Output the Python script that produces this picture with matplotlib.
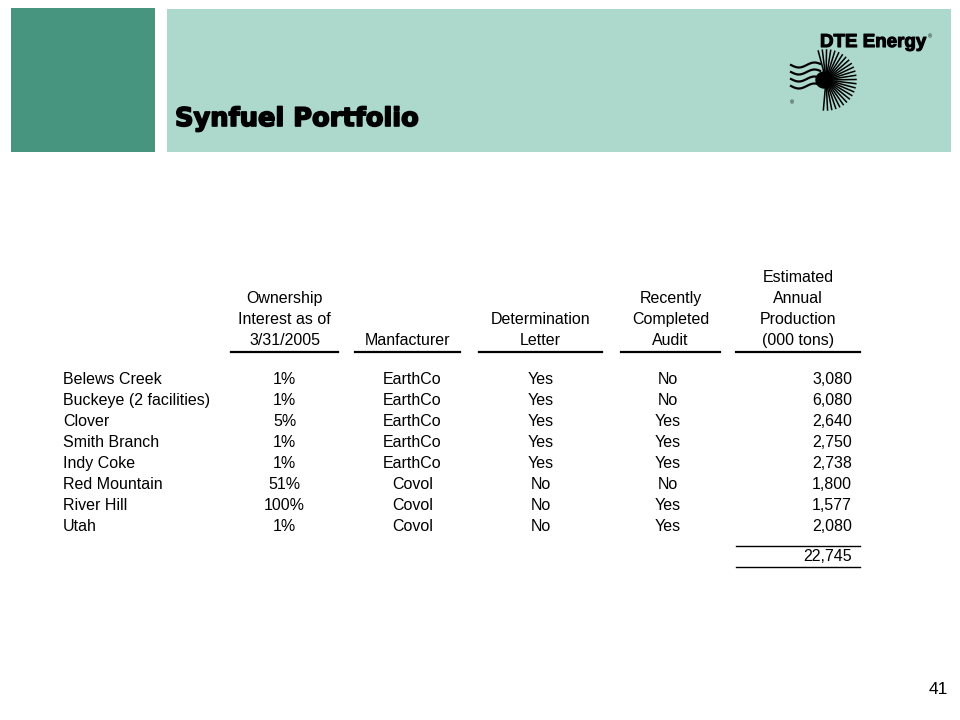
import numpy as np
import matplotlib.pyplot as plt
import matplotlib.patheffects as pe
from matplotlib.patches import Rectangle

plt.rcParams['font.family'] = ['Liberation Sans', 'DejaVu Sans']

# table data
facilities = ['Belews Creek', 'Buckeye (2 facilities)', 'Clover', 'Smith Branch',
              'Indy Coke', 'Red Mountain', 'River Hill', 'Utah']
ownership = ['1%', '1%', '5%', '1%', '1%', '51%', '100%', '1%']
manufacturer = ['EarthCo', 'EarthCo', 'EarthCo', 'EarthCo', 'EarthCo',
                'Covol', 'Covol', 'Covol']
determination = ['Yes', 'Yes', 'Yes', 'Yes', 'Yes', 'No', 'No', 'No']
audit = ['No', 'No', 'Yes', 'Yes', 'Yes', 'No', 'Yes', 'Yes']
production = [3080, 6080, 2640, 2750, 2738, 1800, 1577, 2080]
total_production = 22745

headers = [['Ownership', 'Interest as of', '3/31/2005'],
           ['Manfacturer'],
           ['Determination', 'Letter'],
           ['Recently', 'Completed', 'Audit'],
           ['Estimated', 'Annual', 'Production', '(000 tons)']]

fig = plt.figure(figsize=(9.6, 7.2), dpi=100)
ax = fig.add_axes([0, 0, 1, 1])
ax.set_xlim(0, 960)
ax.set_ylim(720, 0)
ax.axis('off')

# banner
ax.add_patch(Rectangle((11, 8), 144, 144, color='#47957f', lw=0))
ax.add_patch(Rectangle((167, 9), 784, 143, color='#acd9cc', lw=0))
ax.text(175, 126, 'Synfuel Portfolio', fontsize=18.5, fontweight='bold',
        family='DejaVu Sans', color='black', va='baseline',
        path_effects=[pe.withStroke(linewidth=1.2, foreground='black')])

# logo
ax.text(926, 47, 'DTE Energy', fontsize=13.5, fontweight='bold',
        ha='right', va='baseline',
        path_effects=[pe.withStroke(linewidth=0.8, foreground='black')])
ax.text(928, 38, '®', fontsize=4, ha='left', va='baseline')
cx, cy = 826, 80
for a in np.linspace(-95, 105, 26):
    r = np.deg2rad(a)
    ax.plot([cx + 7 * np.cos(r), cx + 30 * np.cos(r)],
            [cy - 7 * np.sin(r), cy - 30 * np.sin(r)], color='black', lw=1.1)
ax.add_patch(plt.Circle((cx - 2, cy), 8, color='black'))
for dy in [-15, -8, -1, 6]:
    xs = np.linspace(791, 820, 30)
    ax.plot(xs, cy + dy + 2.5 * np.sin((xs - 791) / 5), color='black', lw=1.6)
ax.text(790, 104, '®', fontsize=4)

# header
col_x = [284.5, 407.5, 540.5, 670.5, 798]
col_l = [231, 355, 479, 621, 736]
col_r = [338, 460, 602, 720, 860]
line_h = 21
fs = 11.5
for cx_, lines in zip(col_x, headers):
    n = len(lines)
    for i, t in enumerate(lines):
        y = 345 - (n - 1 - i) * line_h
        ax.text(cx_, y, t, fontsize=fs, ha='center', va='baseline')
for l, r in zip(col_l, col_r):
    ax.plot([l, r], [352, 352], color='black', lw=1.6)

# rows
for i in range(len(facilities)):
    y = 384 + i * 21
    ax.text(63, y, facilities[i], fontsize=fs, ha='left', va='baseline')
    ax.text(col_x[0], y, ownership[i], fontsize=fs, ha='center', va='baseline')
    ax.text(col_x[1] + 5, y, manufacturer[i], fontsize=fs, ha='center', va='baseline')
    ax.text(col_x[2], y, determination[i], fontsize=fs, ha='center', va='baseline')
    ax.text(col_x[3] - 3, y, audit[i], fontsize=fs, ha='center', va='baseline')
    ax.text(852, y, f'{production[i]:,}', fontsize=fs, ha='right', va='baseline')

ax.plot([736, 860], [546, 546], color='black', lw=1)
ax.text(852, 561, f'{total_production:,}', fontsize=fs, ha='right', va='baseline')
ax.plot([736, 860], [567, 567], color='black', lw=1)

ax.text(948, 694, '41', fontsize=12.5, ha='right', va='baseline')

fig.savefig('out.png', dpi=100)
